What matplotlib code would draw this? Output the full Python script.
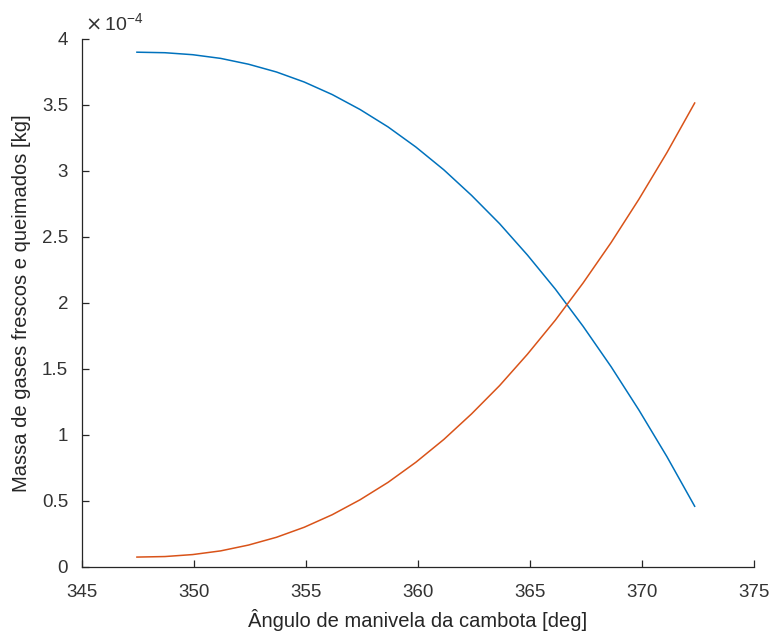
import numpy as np
import matplotlib
matplotlib.use('Agg')
import matplotlib.pyplot as plt
from matplotlib.ticker import FuncFormatter, MultipleLocator

plt.rcParams['font.family'] = ['Liberation Sans', 'DejaVu Sans']

# crank angle [deg]
ang = [347.45, 348.70, 349.94, 351.19, 352.43, 353.68, 354.92, 356.17, 357.41, 358.66, 359.90,
       361.15, 362.39, 363.64, 364.88, 366.13, 367.37, 368.62, 369.86, 371.11, 372.35]

# mass of fresh gases [x1e-4 kg]
m_fresh = [3.900, 3.896, 3.881, 3.853, 3.809, 3.750, 3.674, 3.579, 3.466, 3.334, 3.182,
           3.009, 2.815, 2.601, 2.364, 2.105, 1.823, 1.517, 1.189, 0.836, 0.460]

# mass of burned gases [x1e-4 kg]
m_burn = [0.075, 0.079, 0.094, 0.122, 0.166, 0.225, 0.301, 0.396, 0.509, 0.641, 0.793,
          0.966, 1.160, 1.374, 1.611, 1.870, 2.152, 2.458, 2.786, 3.139, 3.515]

xticks = [345, 350, 355, 360, 365, 370, 375]

fig = plt.figure(figsize=(7.71, 6.33), dpi=100)
ax = fig.add_axes([0.1064, 0.1043, 0.8716, 0.8341])

ax.plot(ang, np.array(m_fresh) * 1e-4, color=(0, 0.447, 0.741), lw=1.1)
ax.plot(ang, np.array(m_burn) * 1e-4, color=(0.85, 0.325, 0.098), lw=1.1)

ax.set_xlim(345, 375)
ax.set_ylim(0, 4e-4)
ax.set_xticks(xticks)
ax.yaxis.set_major_locator(MultipleLocator(0.5e-4))
ax.yaxis.set_major_formatter(FuncFormatter(lambda v, p: '%g' % round(v / 1e-4, 2)))

for s in ['top', 'right']:
    ax.spines[s].set_visible(False)
for s in ['left', 'bottom']:
    ax.spines[s].set_color('#262626')
    ax.spines[s].set_linewidth(0.9)
ax.tick_params(direction='in', length=5, width=0.9, color='#262626',
               labelsize=13.5, labelcolor='#333333')
ax.tick_params(axis='x', pad=12)
ax.tick_params(axis='y', pad=10)

ax.text(0.005, 1.008, r'$\times\,$10$^{\mathregular{-4}}$', transform=ax.transAxes,
        fontsize=14, color='#333333', ha='left', va='bottom')

ax.set_xlabel('Ângulo de manivela da cambota [deg]', fontsize=14.5, color='#262626', labelpad=6)
ax.set_ylabel('Massa de gases frescos e queimados [kg]', fontsize=14.5, color='#262626', labelpad=8)

plt.savefig('out.png', dpi=100)
